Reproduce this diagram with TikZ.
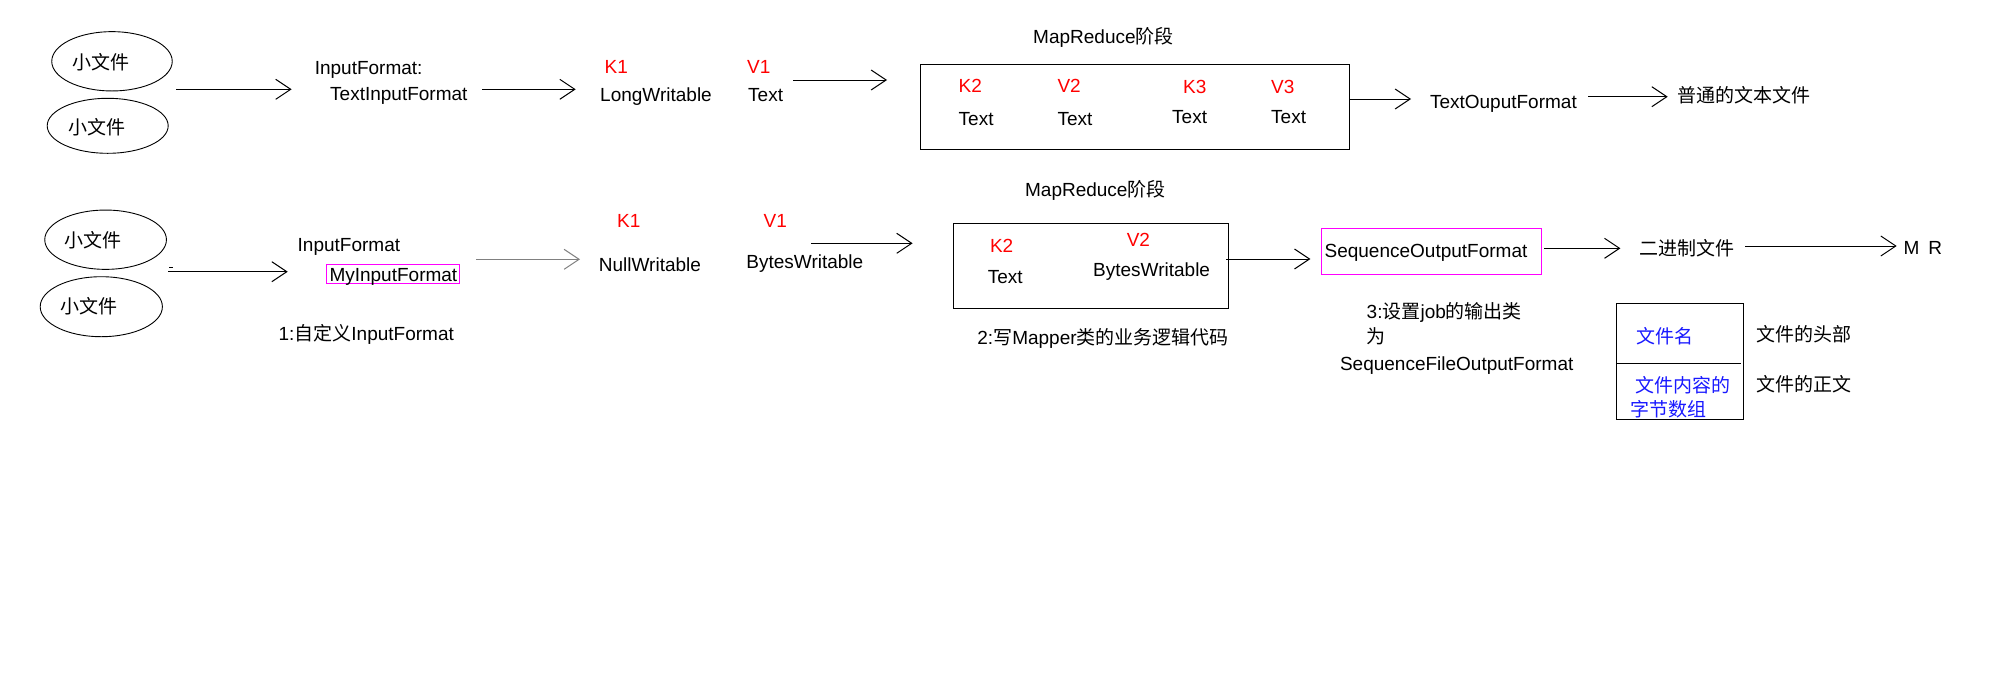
\documentclass[tikz,border=0pt]{standalone}
\usepackage{fontspec}
\setmainfont{Liberation Sans}
\newfontfamily\cjkf{Noto Sans CJK SC}
\usetikzlibrary{arrows.meta,shapes.geometric}
\newcommand\zh[1]{{\cjkf #1}}
\definecolor{kvred}{RGB}{255,0,0}
\definecolor{tblue}{RGB}{25,25,255}
\definecolor{boxpink}{RGB}{255,0,255}
\begin{document}
\begin{tikzpicture}[x=1pt,y=-1pt,
  txt/.style={anchor=west, inner sep=0pt, text height=13.6pt, text depth=0pt, font=\fontsize{19}{22}\selectfont},
  kv/.style={txt, text=kvred},
  tb/.style={txt, text=tblue},
  filenode/.style={ellipse, draw, line width=0.9pt, inner sep=0pt},
  frame/.style={draw, line width=1pt, inner sep=0pt, anchor=north west},
  pinkbox/.style={draw=boxpink, line width=1pt, inner sep=0pt, anchor=north west},
  arr/.style={draw, line width=1pt, -{Straight Barb[length=15pt,width=20pt]}}
]
\fill[white] (0,0) rectangle (2005,681);
\useasboundingbox (0,0) rectangle (2005,681);

% ---------- row 1 ----------
\node[filenode, minimum width=120.5pt, minimum height=59.3pt] (e1) at (112,61.3) {};
\node[filenode, minimum width=121pt, minimum height=55pt] (e2) at (107.7,125.8) {};
\node[txt] (e1t) at (72,62.7) {\zh{小文件}};
\node[txt] (e2t) at (68,128) {\zh{小文件}};

\node[txt] (if1) at (314.6,67.7) {InputFormat:};
\node[txt] (tif) at (330,93.3) {TextInputFormat};
\node[kv] (k1a) at (604.4,66.7) {K1};
\node[txt] (lw) at (600,94.3) {LongWritable};
\node[kv] (v1a) at (747,66.7) {V1};
\node[txt] (t1) at (748,94.3) {Text};

\node[txt] (mr1t) at (1033,36.7) {MapReduce\zh{阶段}};
\node[frame, minimum width=428.6pt, minimum height=85pt] (mr1) at (920.2,64.3) {};
\node[kv] (k2a) at (958.5,85.7) {K2};
\node[kv] (v2a) at (1057.3,85.7) {V2};
\node[kv] (k3a) at (1183,86.7) {K3};
\node[kv] (v3a) at (1271,86.7) {V3};
\node[txt] (tk2) at (958.5,118.3) {Text};
\node[txt] (tv2) at (1057.3,118.3) {Text};
\node[txt] (tk3) at (1172,116.7) {Text};
\node[txt] (tv3) at (1271,116.7) {Text};

\node[txt] (tof) at (1429.8,101.7) {TextOuputFormat};
\node[txt] (plain) at (1677,95.7) {\zh{普通的文本文件}};

\coordinate (a1s) at (176,89.3);   \coordinate (a1e) at (291.6,89.3);
\coordinate (a2s) at (482,89.3);   \coordinate (a2e) at (575.7,89.3);
\coordinate (a3s) at (793,80);     \coordinate (a3e) at (887,80);
\coordinate (a4e) at (1411,99);
\coordinate (a5s) at (1588,96.7);  \coordinate (a5e) at (1667.7,96.7);
\draw[arr] (a1s) -- (a1e);
\draw[arr] (a2s) -- (a2e);
\draw[arr] (a3s) -- (a3e);
\draw[arr] (mr1.east |- a4e) -- (a4e);
\draw[arr] (a5s) -- (a5e);

% ---------- row 2 ----------
\node[filenode, minimum width=121.7pt, minimum height=59.3pt] (e3) at (105.6,239.7) {};
\node[filenode, minimum width=122.2pt, minimum height=60pt] (e4) at (101.3,306.7) {};
\node[txt] (e3t) at (64.3,241) {\zh{小文件}};
\node[txt] (e4t) at (60.3,306.7) {\zh{小文件}};

\node[txt] (if2) at (297.5,245) {InputFormat};
\node[pinkbox, minimum width=133.3pt, minimum height=19pt] (myb) at (326,264.3) {};
\node[txt] (myif) at (329.3,274.5) {MyInputFormat};
\node[txt] (step1) at (278.4,333.3) {1:\zh{自定义}InputFormat};

\node[kv] (k1b) at (617,220.7) {K1};
\node[txt] (nw) at (598.7,265) {NullWritable};
\node[kv] (v1b) at (763.4,220.7) {V1};
\node[txt] (bw) at (746.2,261.7) {BytesWritable};

\node[txt] (mr2t) at (1024.9,189.3) {MapReduce\zh{阶段}};
\node[frame, minimum width=275.7pt, minimum height=85pt] (mr2) at (952.6,223.3) {};
\node[kv] (k2b) at (989.8,246) {K2};
\node[kv] (v2b) at (1126.6,240) {V2};
\node[txt] (tk2b) at (987.7,276.7) {Text};
\node[txt] (bw2) at (1093,270) {BytesWritable};
\node[txt] (step2) at (977.2,337.7) {2:\zh{写}Mapper\zh{类的业务逻辑代码}};

\node[pinkbox, minimum width=219.6pt, minimum height=46pt] (seqb) at (1320.9,228.3) {};
\node[txt] (seqt) at (1324.4,251) {SequenceOutputFormat};
\node[txt] (step3a) at (1366.5,311.7) {3:\zh{设置}job\zh{的输出类}};
\node[txt] (step3b) at (1366.5,336.7) {\zh{为}};
\node[txt] (step3c) at (1339.8,363.3) {SequenceFileOutputFormat};

\node[txt] (bin) at (1639.3,248.3) {\zh{二进制文件}};
\node[txt] (mrr) at (1903.3,247.3) {M\hspace{9pt}R};

% table
\node[frame, minimum width=127.3pt, minimum height=116pt] (tbl) at (1616,303.3) {};
\coordinate (tmidl) at (1616,363.3);
\coordinate (tmidr) at (1740.7,363.3);
\draw[line width=1pt] (tmidl) -- (tmidr);
\node[tb] (fn) at (1636.7,336.7) {\zh{文件名}};
\node[tb] (fc1) at (1635,385.7) {\zh{文件内容的}};
\node[tb] (fc2) at (1630.7,410) {\zh{字节数组}};
\node[txt] (hd) at (1756.7,334.3) {\zh{文件的头部}};
\node[txt] (bd) at (1756.7,384.3) {\zh{文件的正文}};

% connectors row 2
\coordinate (dashs) at (169.3,267.3); \coordinate (dashe) at (172.7,267.3);
\draw[line width=1pt] (dashs) -- (dashe);
\coordinate (b1s) at (168.3,271.7);  \coordinate (b1e) at (287.7,271.7);
\coordinate (b2s) at (476,259.3);    \coordinate (b2e) at (580,259.3);
\coordinate (b3s) at (811,243.3);    \coordinate (b3e) at (912.6,243.3);
\coordinate (b4s) at (1226,259);     \coordinate (b4e) at (1310.4,259);
\coordinate (b5s) at (1544,248.3);   \coordinate (b5e) at (1620.4,248.3);
\coordinate (b6s) at (1745,246);     \coordinate (b6e) at (1896.7,246);
\draw[arr] (b1s) -- (b1e);
\draw[arr, draw=gray] (b2s) -- (b2e);
\draw[arr] (b3s) -- (b3e);
\draw[arr] (b4s) -- (b4e);
\draw[arr] (b5s) -- (b5e);
\draw[arr] (b6s) -- (b6e);
\end{tikzpicture}
\end{document}
